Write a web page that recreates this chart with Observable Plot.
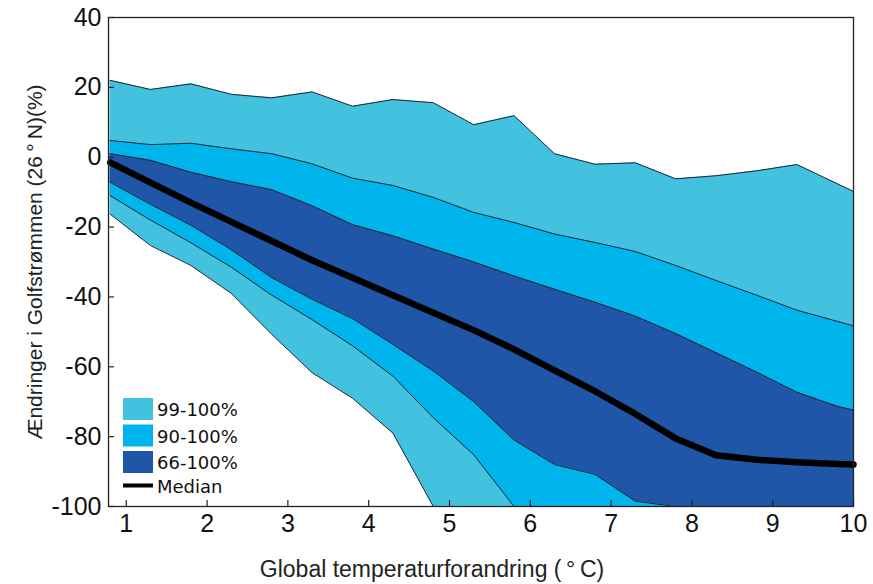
<!DOCTYPE html>
<html>
<head>
<meta charset="utf-8">
<script src="https://cdn.jsdelivr.net/npm/d3@7"></script>
<script src="https://cdn.jsdelivr.net/npm/@observablehq/plot@0.6"></script>
<style>
  html, body { margin: 0; padding: 0; background: #fff; }
  #chart { position: relative; width: 873px; height: 584px; }
</style>
</head>
<body>
<div id="chart"></div>
<script>
// Global temperature change (°C)
const temp = [0.8, 1.3, 1.8, 2.3, 2.8, 3.3, 3.8, 4.3, 4.8, 5.3, 5.8, 6.3, 6.8, 7.3, 7.8, 8.3, 8.8, 9.3, 9.8, 10];
// Band edges (% change in AMOC at 26°N)
const up99 = [22.0, 19.4, 21.0, 18.0, 17.0, 18.7, 14.6, 16.5, 15.6, 9.3, 11.9, 1.0, -2.0, -1.6, -6.2, -5.3, -3.9, -2.1, -7.6, -9.8];
const up90 = [4.8, 3.6, 4.0, 2.4, 1.0, -1.9, -6.0, -8.1, -11.5, -15.8, -18.7, -22.0, -24.4, -27.0, -31.0, -35.3, -39.5, -43.8, -47.0, -48.3];
const up66 = [1.0, -0.9, -4.3, -7.0, -9.3, -13.9, -19.3, -22.5, -26.3, -30.0, -34.0, -37.8, -41.5, -45.5, -50.5, -56.0, -61.5, -67.3, -71.3, -72.4];
const median = [-1.5, -7.3, -13.0, -18.5, -24.0, -29.5, -34.5, -39.5, -44.5, -49.5, -55.0, -61.0, -67.0, -73.5, -80.5, -85.3, -86.6, -87.3, -87.8, -88.0];
const lo66 = [-7.2, -13.5, -19.5, -26.5, -34.5, -40.7, -46.2, -53.6, -61.2, -70.0, -81.0, -88.0, -90.8, -98.5, -100, -100, -100, -100, -100, -100];
const lo90 = [-11.0, -18.0, -24.5, -31.5, -39.5, -46.5, -54.0, -62.7, -74.6, -85.2, -100, -100, -100, -100, -100, -100, -100, -100, -100, -100];
const lo99 = [-16.3, -25.3, -31.0, -39.0, -50.7, -61.7, -69.0, -79.0, -100, -100, -100, -100, -100, -100, -100, -100, -100, -100, -100, -100];

const xTicks = [1, 2, 3, 4, 5, 6, 7, 8, 9, 10];
const yTicks = [-100, -80, -60, -40, -20, 0, 20, 40];

const legendLabels = ["99-100%", "90-100%", "66-100%", "Median"];
const colors = ["#42c2de", "#00b5ec", "#1f56a7"];
const edgeColor = "#1c2836";

const rows = temp.map((t, i) => ({
  t, up99: up99[i], up90: up90[i], up66: up66[i], median: median[i],
  lo66: lo66[i], lo90: lo90[i], lo99: lo99[i]
}));

const W = 873, H = 584;
const mL = 108, mR = 20, mT = 17, mB = 78;
const frameW = W - mL - mR, frameH = H - mT - mB;

const edge = (key) => Plot.lineY(rows, {x: "t", y: key, stroke: edgeColor, strokeWidth: 1});

const plot = Plot.plot({
  width: W,
  height: H,
  marginLeft: mL,
  marginRight: mR,
  marginTop: mT,
  marginBottom: mB,
  style: {fontFamily: "'Liberation Sans', Arial, sans-serif", background: "#fff", color: "#111"},
  x: {domain: [0.78, 10]},
  y: {domain: [-100, 40]},
  marks: [
    Plot.areaY(rows, {x: "t", y1: "lo99", y2: "up99", fill: colors[0]}),
    Plot.areaY(rows, {x: "t", y1: "lo90", y2: "up90", fill: colors[1]}),
    Plot.areaY(rows, {x: "t", y1: "lo66", y2: "up66", fill: colors[2]}),
    edge("up99"), edge("lo99"), edge("up90"), edge("lo90"), edge("up66"), edge("lo66"),
    Plot.lineY(rows, {x: "t", y: "median", stroke: "#000", strokeWidth: 6.5, strokeLinejoin: "round"}),
    Plot.tickX(xTicks, {x: d => d, stroke: "#222", strokeWidth: 1.2, insetTop: frameH - 6}),
    Plot.tickY(yTicks, {y: d => d, stroke: "#222", strokeWidth: 1.2, insetRight: frameW - 6}),
    Plot.frame({stroke: "#222", strokeWidth: 1.3}),
    Plot.axisX(xTicks, {tickSize: 0, tickPadding: 8, fontSize: 25, label: null, fill: "#111", tickFormat: d => String(d)}),
    Plot.axisY(yTicks, {tickSize: 0, tickPadding: 7, fontSize: 25, label: null, fill: "#111", tickFormat: d => String(d)})
  ]
});

document.getElementById("chart").appendChild(plot);

const svg = d3.select(plot);
// Axis titles
svg.append("text")
  .attr("x", 432).attr("y", 577)
  .attr("text-anchor", "middle")
  .attr("font-family", "'Liberation Sans', Arial, sans-serif")
  .attr("font-size", 23)
  .attr("fill", "#222")
  .text("Global temperaturforandring (\u2009°\u2009C)");
svg.append("text")
  .attr("transform", "translate(42,262) rotate(-90)")
  .attr("text-anchor", "middle")
  .attr("font-family", "'Liberation Sans', Arial, sans-serif")
  .attr("font-size", 21)
  .attr("fill", "#222")
  .text("Ændringer i Golfstrømmen (26\u2009°\u2009N)(%)");

// Legend
const lg = svg.append("g")
  .attr("font-family", "'DejaVu Sans', sans-serif")
  .attr("font-size", 18)
  .attr("fill", "#111")
  .attr("text-anchor", "start");
const lx = 123, ly0 = 398, step = 26.5;
legendLabels.forEach((lab, i) => {
  const y = ly0 + i * step;
  if (i < 3) {
    lg.append("rect").attr("x", lx).attr("y", y).attr("width", 30).attr("height", 22).attr("fill", colors[i]);
  } else {
    lg.append("line").attr("x1", lx).attr("x2", lx + 30).attr("y1", y + 8).attr("y2", y + 8)
      .attr("stroke", "#000").attr("stroke-width", 4);
  }
  lg.append("text").attr("x", lx + 34).attr("y", i < 3 ? y + 18 : y + 15).attr("text-anchor", "start").text(lab);
});
</script>
</body>
</html>
